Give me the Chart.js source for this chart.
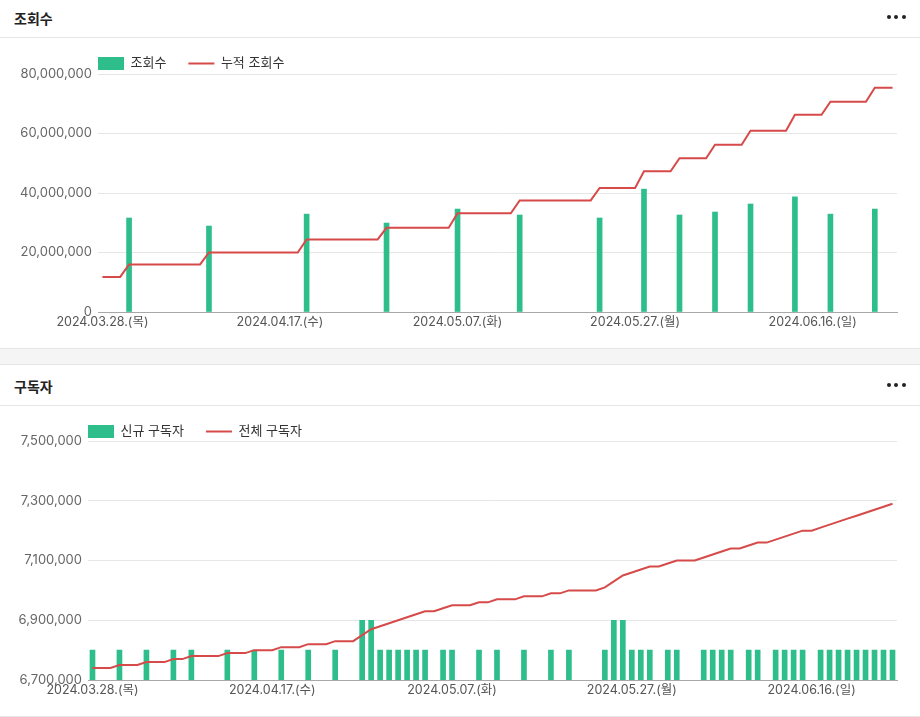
<!DOCTYPE html>
<html><head><meta charset="utf-8">
<script src="https://cdn.jsdelivr.net/npm/chart.js@4"></script>
<style>
html,body{margin:0;padding:0;background:#fff;}
body{width:920px;height:717px;position:relative;overflow:hidden;font-family:'Noto Sans CJK KR',sans-serif;}
.hdr{position:absolute;left:0;width:920px;border-bottom:1px solid #e6e6e6;box-sizing:border-box;}
.title{position:absolute;left:14px;font-size:14px;font-weight:700;color:#222;}
.dots{position:absolute;left:0;width:920px;height:4px;}
.dots span{position:absolute;top:0;width:4px;height:4px;border-radius:50%;background:#222;}
.wrap{position:absolute;left:0;width:920px;height:310px;}
.band{position:absolute;left:0;top:348px;width:920px;height:17px;background:#f5f5f5;border-top:1px solid #e6e6e6;border-bottom:1px solid #e6e6e6;box-sizing:border-box;}
.bline{position:absolute;left:0;top:716px;width:920px;height:1px;background:#e6e6e6;}
</style>
</head><body>
<div class="hdr" style="top:0;height:38px;"><div class="title" style="top:0;line-height:37px;">조회수</div></div>
<div class="dots" style="top:15px;"><span style="left:887px"></span><span style="left:894px"></span><span style="left:902px"></span></div>
<div class="wrap" style="top:38px;"><canvas id="c1" width="920" height="310"></canvas></div>
<div class="band"></div>
<div class="hdr" style="top:365px;height:41px;"><div class="title" style="top:1px;line-height:40px;">구독자</div></div>
<div class="dots" style="top:383px;"><span style="left:887px"></span><span style="left:894px"></span><span style="left:902px"></span></div>
<div class="wrap" style="top:406px;"><canvas id="c2" width="920" height="310"></canvas></div>
<div class="bline"></div>
<script>
// ---- categories ----
const dates = [
'2024.03.28.(목)','2024.03.29.(금)','2024.03.30.(토)','2024.03.31.(일)',
'2024.04.01.(월)','2024.04.02.(화)','2024.04.03.(수)','2024.04.04.(목)','2024.04.05.(금)','2024.04.06.(토)','2024.04.07.(일)',
'2024.04.08.(월)','2024.04.09.(화)','2024.04.10.(수)','2024.04.11.(목)','2024.04.12.(금)','2024.04.13.(토)','2024.04.14.(일)',
'2024.04.15.(월)','2024.04.16.(화)','2024.04.17.(수)','2024.04.18.(목)','2024.04.19.(금)','2024.04.20.(토)','2024.04.21.(일)',
'2024.04.22.(월)','2024.04.23.(화)','2024.04.24.(수)','2024.04.25.(목)','2024.04.26.(금)','2024.04.27.(토)','2024.04.28.(일)',
'2024.04.29.(월)','2024.04.30.(화)',
'2024.05.01.(수)','2024.05.02.(목)','2024.05.03.(금)','2024.05.04.(토)','2024.05.05.(일)',
'2024.05.06.(월)','2024.05.07.(화)','2024.05.08.(수)','2024.05.09.(목)','2024.05.10.(금)','2024.05.11.(토)','2024.05.12.(일)',
'2024.05.13.(월)','2024.05.14.(화)','2024.05.15.(수)','2024.05.16.(목)','2024.05.17.(금)','2024.05.18.(토)','2024.05.19.(일)',
'2024.05.20.(월)','2024.05.21.(화)','2024.05.22.(수)','2024.05.23.(목)','2024.05.24.(금)','2024.05.25.(토)','2024.05.26.(일)',
'2024.05.27.(월)','2024.05.28.(화)','2024.05.29.(수)','2024.05.30.(목)','2024.05.31.(금)','2024.06.01.(토)','2024.06.02.(일)',
'2024.06.03.(월)','2024.06.04.(화)','2024.06.05.(수)','2024.06.06.(목)','2024.06.07.(금)','2024.06.08.(토)','2024.06.09.(일)',
'2024.06.10.(월)','2024.06.11.(화)','2024.06.12.(수)','2024.06.13.(목)','2024.06.14.(금)','2024.06.15.(토)','2024.06.16.(일)',
'2024.06.17.(월)','2024.06.18.(화)','2024.06.19.(수)','2024.06.20.(목)','2024.06.21.(금)','2024.06.22.(토)','2024.06.23.(일)',
'2024.06.24.(월)','2024.06.25.(화)'
];
const shownTickIdx = [0, 20, 40, 60, 80];

// ---- chart 1: 조회수 ----
const views = [
null,null,null,31600000,null,null,null,null,null,null,
null,null,28900000,null,null,null,null,null,null,null,
null,null,null,32900000,null,null,null,null,null,null,
null,null,29900000,null,null,null,null,null,null,null,
34600000,null,null,null,null,null,null,32600000,null,null,
null,null,null,null,null,null,31600000,null,null,null,
null,41300000,null,null,null,32600000,null,null,null,33600000,
null,null,null,36300000,null,null,null,null,38700000,null,
null,null,32900000,null,null,null,null,34600000,null,null
];
const cumViews = [
11800000,11800000,11800000,16000000,16000000,16000000,16000000,16000000,16000000,16000000,
16000000,16000000,20000000,20000000,20000000,20000000,20000000,20000000,20000000,20000000,
20000000,20000000,20000000,24400000,24400000,24400000,24400000,24400000,24400000,24400000,
24400000,24400000,28300000,28300000,28300000,28300000,28300000,28300000,28300000,28300000,
33200000,33200000,33200000,33200000,33200000,33200000,33200000,37500000,37500000,37500000,
37500000,37500000,37500000,37500000,37500000,37500000,41700000,41700000,41700000,41700000,
41700000,47300000,47300000,47300000,47300000,51700000,51700000,51700000,51700000,56200000,
56200000,56200000,56200000,60900000,60900000,60900000,60900000,60900000,66300000,66300000,
66300000,66300000,70700000,70700000,70700000,70700000,70700000,75400000,75400000,75400000
];
const viewTicks = [0, 20000000, 40000000, 60000000, 80000000];

// ---- chart 2: 구독자 ----
const newSubs = [
6800000,null,null,6800000,null,null,6800000,null,null,6800000,
null,6800000,null,null,null,6800000,null,null,6800000,null,
null,6800000,null,null,6800000,null,null,6800000,null,null,
6900000,6900000,6800000,6800000,6800000,6800000,6800000,6800000,null,6800000,
6800000,null,null,6800000,null,6800000,null,null,6800000,null,
null,6800000,null,6800000,null,null,null,6800000,6900000,6900000,
6800000,6800000,6800000,null,6800000,6800000,null,null,6800000,6800000,
6800000,6800000,null,6800000,6800000,null,6800000,6800000,6800000,6800000,
null,6800000,6800000,6800000,6800000,6800000,6800000,6800000,6800000,6800000
];
const totalSubs = [
6740000,6740000,6740000,6750000,6750000,6750000,6760000,6760000,6760000,6770000,
6770000,6780000,6780000,6780000,6780000,6790000,6790000,6790000,6800000,6800000,
6800000,6810000,6810000,6810000,6820000,6820000,6820000,6830000,6830000,6830000,
6850000,6870000,6880000,6890000,6900000,6910000,6920000,6930000,6930000,6940000,
6950000,6950000,6950000,6960000,6960000,6970000,6970000,6970000,6980000,6980000,
6980000,6990000,6990000,7000000,7000000,7000000,7000000,7010000,7030000,7050000,
7060000,7070000,7080000,7080000,7090000,7100000,7100000,7100000,7110000,7120000,
7130000,7140000,7140000,7150000,7160000,7160000,7170000,7180000,7190000,7200000,
7200000,7210000,7220000,7230000,7240000,7250000,7260000,7270000,7280000,7290000
];
const subTicks = [6700000, 6900000, 7100000, 7300000, 7500000];

const GREEN = '#2ebe8c';
const RED = '#d64a4a';
const FONT = "Inter, 'Noto Sans CJK KR', sans-serif";
const LEGEND_PAD = 22;

const legendFix = {
  id: 'legendFix',
  beforeLayout(chart, args, opts) {
    const lg = chart.legend;
    if (lg && !lg._patched) {
      const orig = lg.fit;
      lg.fit = function() { orig.call(this); this.height = opts.height; };
      lg._patched = true;
    }
  },
  afterLayout(chart, args, opts) {
    const lg = chart.legend;
    if (lg) {
      const pad = lg.options.labels.padding;
      lg.left = chart.chartArea.left - pad;
      lg.top = opts.boxTop - pad;
    }
  }
};

function makeChart(id, barLabel, barData, lineLabel, lineData, ticks, yMin, yMax, yWidth, legendH, boxTop) {
  return new Chart(document.getElementById(id), {
    type: 'bar',
    data: {
      labels: dates,
      datasets: [
        { type: 'bar', label: barLabel, data: barData, backgroundColor: GREEN, borderWidth: 0,
          barThickness: 5, order: 1 },
        { type: 'line', label: lineLabel, data: lineData, borderColor: RED, backgroundColor: RED,
          borderWidth: 2, pointRadius: 0, tension: 0, fill: false, order: 0 }
      ]
    },
    options: {
      responsive: false,
      animation: false,
      devicePixelRatio: 1,
      layout: { padding: { left: 14, right: 23, top: 0, bottom: 14 } },
      plugins: {
        legend: {
          position: 'top', align: 'start', fullSize: false,
          labels: {
            padding: LEGEND_PAD, boxWidth: 26, boxHeight: 13, usePointStyle: true, pointStyleWidth: 26,
            color: '#333', font: { family: FONT, size: 13 },
            sort: (a, b) => a.datasetIndex - b.datasetIndex,
            generateLabels(chart) {
              const items = Chart.defaults.plugins.legend.labels.generateLabels(chart);
              items.forEach(it => {
                const ds = chart.data.datasets[it.datasetIndex];
                it.pointStyle = ds.type === 'line' ? 'line' : 'rect';
              });
              return items;
            }
          }
        },
        legendFix: { height: legendH, boxTop: boxTop },
        tooltip: { enabled: false }
      },
      scales: {
        x: {
          offset: true,
          grid: { display: false, drawTicks: false },
          border: { display: true, color: '#a8a8a8', width: 1 },
          ticks: {
            autoSkip: false, maxRotation: 0, minRotation: 0, padding: 3,
            color: '#555', font: { family: FONT, size: 12.5 },
            callback: function(v, i) { return shownTickIdx.includes(i) ? this.getLabelForValue(v) : ''; }
          },
          afterFit(scale) { scale.height = 22; }
        },
        y: {
          min: yMin, max: yMax,
          grid: { color: '#e6e6e6', drawTicks: false },
          border: { display: false },
          ticks: {
            padding: 6, color: '#666', font: { family: FONT, size: 13 },
            callback: v => Number(v).toLocaleString('en-US')
          },
          afterBuildTicks(scale) { scale.ticks = ticks.map(v => ({ value: v })); },
          afterFit(scale) { scale.width = yWidth; }
        }
      }
    },
    plugins: [legendFix]
  });
}

makeChart('c1', '조회수', views, '누적 조회수', cumViews, viewTicks, 0, 80000000, 84, 36, 19);
makeChart('c2', '신규 구독자', newSubs, '전체 구독자', totalSubs, subTicks, 6700000, 7500000, 74, 35, 19);
</script>
</body></html>
